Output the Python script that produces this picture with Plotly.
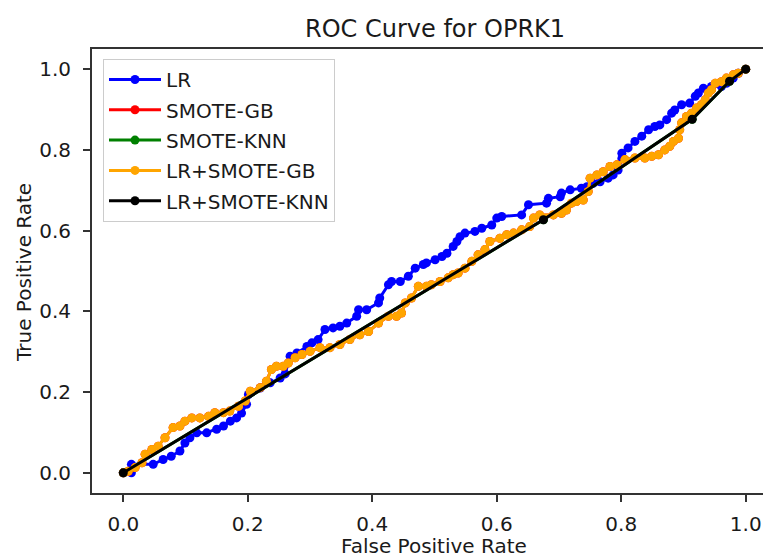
import plotly.graph_objects as go

# ---- data ----
lr_fpr = [0.0, 0.013, 0.013, 0.048, 0.064, 0.077, 0.091, 0.099, 0.107, 0.118, 0.134, 0.150, 0.161, 0.172,
          0.182, 0.190, 0.198, 0.201, 0.220, 0.236, 0.252, 0.260, 0.268, 0.279, 0.295, 0.303, 0.313, 0.324,
          0.337, 0.348, 0.359, 0.375, 0.378, 0.391, 0.410, 0.412, 0.426, 0.431, 0.445, 0.458, 0.469, 0.482,
          0.487, 0.501, 0.512, 0.520, 0.530, 0.536, 0.541, 0.549, 0.565, 0.576, 0.592, 0.600, 0.608, 0.640,
          0.651, 0.680, 0.683, 0.702, 0.704, 0.718, 0.736, 0.745, 0.755, 0.766, 0.779, 0.787, 0.795, 0.801,
          0.801, 0.811, 0.822, 0.833, 0.844, 0.854, 0.862, 0.873, 0.881, 0.886, 0.897, 0.910, 0.919, 0.924,
          0.932, 0.945, 0.961, 0.969, 0.980, 0.988, 1.0]
lr_tpr = [0.0, 0.0, 0.021, 0.021, 0.033, 0.041, 0.054, 0.074, 0.087, 0.099, 0.099, 0.108, 0.116, 0.128,
          0.136, 0.148, 0.170, 0.194, 0.210, 0.223, 0.235, 0.245, 0.289, 0.297, 0.313, 0.322, 0.330, 0.355,
          0.359, 0.363, 0.371, 0.388, 0.404, 0.404, 0.421, 0.433, 0.466, 0.474, 0.474, 0.487, 0.507, 0.516,
          0.520, 0.528, 0.536, 0.544, 0.561, 0.573, 0.585, 0.594, 0.598, 0.606, 0.614, 0.631, 0.635, 0.639,
          0.664, 0.668, 0.680, 0.684, 0.693, 0.701, 0.705, 0.709, 0.717, 0.721, 0.730, 0.738, 0.750, 0.779,
          0.792, 0.805, 0.821, 0.834, 0.850, 0.858, 0.862, 0.875, 0.891, 0.899, 0.912, 0.916, 0.933, 0.941,
          0.953, 0.957, 0.957, 0.965, 0.978, 0.990, 1.0]

gb_fpr = [0.0, 0.008, 0.019, 0.030, 0.035, 0.046, 0.056, 0.067, 0.080, 0.091, 0.099, 0.110, 0.123, 0.137,
          0.147, 0.161, 0.171, 0.185, 0.196, 0.204, 0.220, 0.230, 0.238, 0.246, 0.257, 0.265, 0.276, 0.287,
          0.300, 0.316, 0.332, 0.348, 0.364, 0.380, 0.394, 0.410, 0.426, 0.439, 0.447, 0.453, 0.463, 0.474,
          0.487, 0.495, 0.509, 0.522, 0.530, 0.538, 0.549, 0.560, 0.570, 0.581, 0.589, 0.605, 0.616, 0.627,
          0.640, 0.653, 0.659, 0.669, 0.691, 0.704, 0.712, 0.720, 0.728, 0.739, 0.747, 0.750, 0.761, 0.771,
          0.782, 0.793, 0.806, 0.822, 0.838, 0.849, 0.860, 0.870, 0.878, 0.884, 0.892, 0.894, 0.897, 0.905,
          0.913, 0.921, 0.929, 0.935, 0.940, 0.945, 0.951, 0.961, 0.969, 0.980, 0.988, 1.0]
gb_tpr = [0.0, 0.004, 0.013, 0.025, 0.046, 0.058, 0.066, 0.087, 0.112, 0.116, 0.128, 0.136, 0.136, 0.140,
          0.149, 0.149, 0.153, 0.165, 0.178, 0.202, 0.211, 0.227, 0.256, 0.264, 0.264, 0.272, 0.285, 0.293,
          0.301, 0.310, 0.310, 0.318, 0.330, 0.342, 0.350, 0.371, 0.388, 0.388, 0.396, 0.421, 0.433, 0.462,
          0.462, 0.466, 0.474, 0.483, 0.491, 0.495, 0.507, 0.524, 0.540, 0.553, 0.573, 0.581, 0.590, 0.594,
          0.602, 0.610, 0.631, 0.639, 0.639, 0.643, 0.651, 0.668, 0.672, 0.676, 0.697, 0.730, 0.738, 0.746,
          0.759, 0.763, 0.776, 0.780, 0.780, 0.784, 0.788, 0.800, 0.809, 0.821, 0.829, 0.850, 0.867, 0.883,
          0.891, 0.904, 0.912, 0.924, 0.941, 0.949, 0.965, 0.969, 0.978, 0.986, 0.990, 1.0]

knn_fpr = [0.0, 0.675, 0.914, 0.974, 1.0]
knn_tpr = [0.0, 0.627, 0.876, 0.970, 1.0]

series = [
    ("LR", lr_fpr, lr_tpr, "#0000ff"),
    ("SMOTE-GB", gb_fpr, gb_tpr, "#ff0000"),
    ("SMOTE-KNN", knn_fpr, knn_tpr, "#008000"),
    ("LR+SMOTE-GB", gb_fpr, gb_tpr, "#ffa500"),
    ("LR+SMOTE-KNN", knn_fpr, knn_tpr, "#000000"),
]

ticks = [0.0, 0.2, 0.4, 0.6, 0.8, 1.0]
tick_text = ["0.0", "0.2", "0.4", "0.6", "0.8", "1.0"]

FONT = "DejaVu Sans"
TXT = "#1a1a1a"

fig = go.Figure()
for name, xs, ys, col in series:
    fig.add_trace(go.Scatter(
        x=xs, y=ys, name=name, mode="lines+markers", legendgroup=name,
        line=dict(color=col, width=3),
        marker=dict(color=col, size=9),
    ))

W, H = 763, 557
L, R, T, B = 92, 0, 49, 64
PW, PH = W - L - R, H - T - B

fig.update_layout(
    width=W, height=H,
    margin=dict(l=L, r=R, t=T, b=B, pad=0, autoexpand=False),
    paper_bgcolor="white", plot_bgcolor="white",
    font=dict(family=FONT, size=20, color=TXT),
    showlegend=True,
    legend=dict(
        x=(103 - L) / PW, y=1 - (59 - T) / PH,
        xanchor="left", yanchor="top", itemwidth=52,
        traceorder="grouped", tracegroupgap=1.3,
        bgcolor="rgba(255,255,255,0.85)", bordercolor="#cccccc", borderwidth=1,
        font=dict(family=FONT, size=20, color=TXT),
    ),
    xaxis=dict(
        range=[-0.0503, 1.0278], tickvals=ticks, ticktext=tick_text,
        showgrid=False, zeroline=False, automargin=False,
        showline=True, linecolor="#333333", linewidth=1.8, mirror=True,
        ticks="outside", ticklen=7, tickwidth=1.6, tickcolor="#333333",
        ticklabelstandoff=5,
        tickfont=dict(family=FONT, size=20, color=TXT),
    ),
    yaxis=dict(
        range=[-0.05, 1.05], tickvals=ticks, ticktext=tick_text,
        showgrid=False, zeroline=False, automargin=False,
        showline=True, linecolor="#333333", linewidth=1.8, mirror=False,
        ticks="outside", ticklen=7, tickwidth=1.6, tickcolor="#333333",
        ticklabelstandoff=8,
        tickfont=dict(family=FONT, size=20, color=TXT),
    ),
    annotations=[
        dict(text="ROC Curve for OPRK1", xref="paper", yref="paper",
             x=(434.5 - L) / PW, y=1 + (T - 29) / PH,
             xanchor="center", yanchor="middle", showarrow=False,
             font=dict(family=FONT, size=24, color=TXT)),
        dict(text="False Positive Rate", xref="paper", yref="paper",
             x=(434 - L) / PW, y=-(546 - T - PH) / PH,
             xanchor="center", yanchor="middle", showarrow=False,
             font=dict(family=FONT, size=20, color=TXT)),
        dict(text="True Positive Rate", xref="paper", yref="paper",
             x=-(L - 24) / PW, y=1 - (273 - T) / PH,
             xanchor="center", yanchor="middle", showarrow=False, textangle=-90,
             font=dict(family=FONT, size=20, color=TXT)),
    ],
)

fig.write_html(
    "out.html",
    config={"displayModeBar": False},
    post_script="document.body.style.margin='0';document.body.style.overflow='hidden';",
)
